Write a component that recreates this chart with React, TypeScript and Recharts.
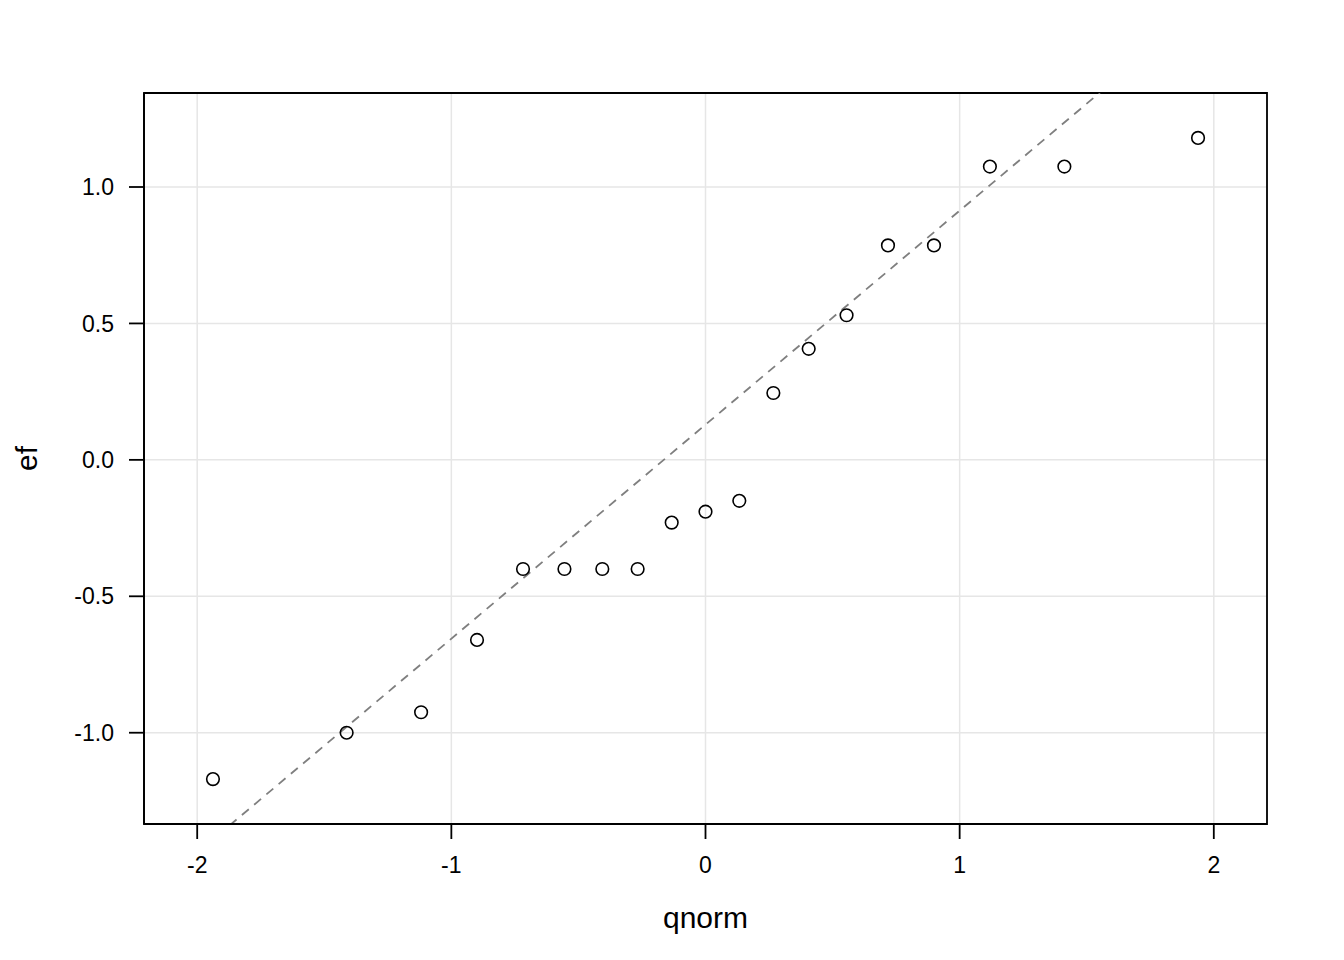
import {
  CartesianGrid,
  Label,
  ReferenceArea,
  ReferenceLine,
  Scatter,
  ScatterChart,
  XAxis,
  YAxis,
} from 'recharts'

// theoretical normal quantiles (x) and sample values (y)
const qnorm = [
  -1.938, -1.412, -1.119, -0.899, -0.718, -0.555, -0.406, -0.267, -0.133, 0,
  0.133, 0.267, 0.406, 0.555, 0.718, 0.899, 1.119, 1.412, 1.938,
]
const ef = [
  -1.17, -1.0, -0.925, -0.66, -0.4, -0.4, -0.4, -0.4, -0.23, -0.19,
  -0.15, 0.245, 0.407, 0.53, 0.786, 0.786, 1.075, 1.075, 1.18,
]
const xTicks = [-2, -1, 0, 1, 2]
const yTicks = [-1, -0.5, 0, 0.5, 1]

const FONT = '"Liberation Sans", Arial, Helvetica, sans-serif'
const Q75 = 0.6744898

const points = qnorm.map((x, i) => ({ x, y: ef[i] }))

// lattice pads the data range by 7% on each side
function padded(values: number[]): [number, number] {
  const lo = Math.min(...values)
  const hi = Math.max(...values)
  const pad = (hi - lo) * 0.07
  return [lo - pad, hi + pad]
}

function quantile(values: number[], p: number): number {
  const sorted = [...values].sort((a, b) => a - b)
  const h = (sorted.length - 1) * p
  const lo = Math.floor(h)
  return sorted[lo] + (h - lo) * (sorted[Math.min(lo + 1, sorted.length - 1)] - sorted[lo])
}

const xDomain = padded(qnorm)
const yDomain = padded(ef)

// qqline: through the first and third quartiles
const q1 = quantile(ef, 0.25)
const q3 = quantile(ef, 0.75)
const slope = (q3 - q1) / (2 * Q75)
const intercept = q1 + Q75 * slope

function OpenCircle(props: any) {
  const { cx, cy } = props
  if (cx == null || cy == null) return null
  return <circle cx={cx} cy={cy} r={6.3} fill="none" stroke="#000" strokeWidth={1.6} />
}

function YTitle(props: any) {
  const vb = props.viewBox
  const x = vb.x + 37
  const y = vb.y + vb.height / 2
  return (
    <text
      x={x}
      y={y}
      transform={`rotate(-90, ${x}, ${y})`}
      textAnchor="middle"
      fontSize={30}
      fontFamily={FONT}
      fill="#000"
    >
      ef
    </text>
  )
}

export default function App() {
  return (
    <div style={{ position: 'absolute', left: 0, top: 0, background: '#fff' }}>
      <ScatterChart
        width={1344}
        height={960}
        margin={{ top: 93, right: 77, left: 0, bottom: 0 }}
      >
        <CartesianGrid stroke="#e6e6e6" strokeWidth={1.5} />
        <XAxis
          dataKey="x"
          type="number"
          domain={xDomain}
          ticks={xTicks}
          allowDataOverflow
          height={136}
          tickSize={15}
          tickMargin={18}
          tickLine={{ stroke: '#000', strokeWidth: 1.8 }}
          axisLine={{ stroke: '#000', strokeWidth: 1.8 }}
          tick={{ fill: '#000', fontSize: 23, fontFamily: FONT }}
        >
          <Label
            value="qnorm"
            position="insideTop"
            offset={83}
            fontSize={30}
            fontFamily={FONT}
            fill="#000"
          />
        </XAxis>
        <YAxis
          dataKey="y"
          type="number"
          domain={yDomain}
          ticks={yTicks}
          allowDataOverflow
          width={144}
          tickSize={15}
          tickMargin={15}
          tickFormatter={(v: number) => v.toFixed(1)}
          tickLine={{ stroke: '#000', strokeWidth: 1.8 }}
          axisLine={{ stroke: '#000', strokeWidth: 1.8 }}
          tick={{ fill: '#000', fontSize: 23, fontFamily: FONT }}
        >
          <Label content={YTitle} />
        </YAxis>
        <ReferenceLine
          segment={[
            { x: xDomain[0], y: intercept + slope * xDomain[0] },
            { x: xDomain[1], y: intercept + slope * xDomain[1] },
          ]}
          ifOverflow="hidden"
          stroke="#7f7f7f"
          strokeWidth={1.8}
          strokeDasharray="9 7"
        />
        <Scatter data={points} shape={OpenCircle} isAnimationActive={false} />
        <ReferenceArea
          x1={xDomain[0]}
          x2={xDomain[1]}
          y1={yDomain[0]}
          y2={yDomain[1]}
          fill="none"
          fillOpacity={0}
          stroke="#000"
          strokeWidth={1.8}
          ifOverflow="visible"
        />
      </ScatterChart>
    </div>
  )
}
